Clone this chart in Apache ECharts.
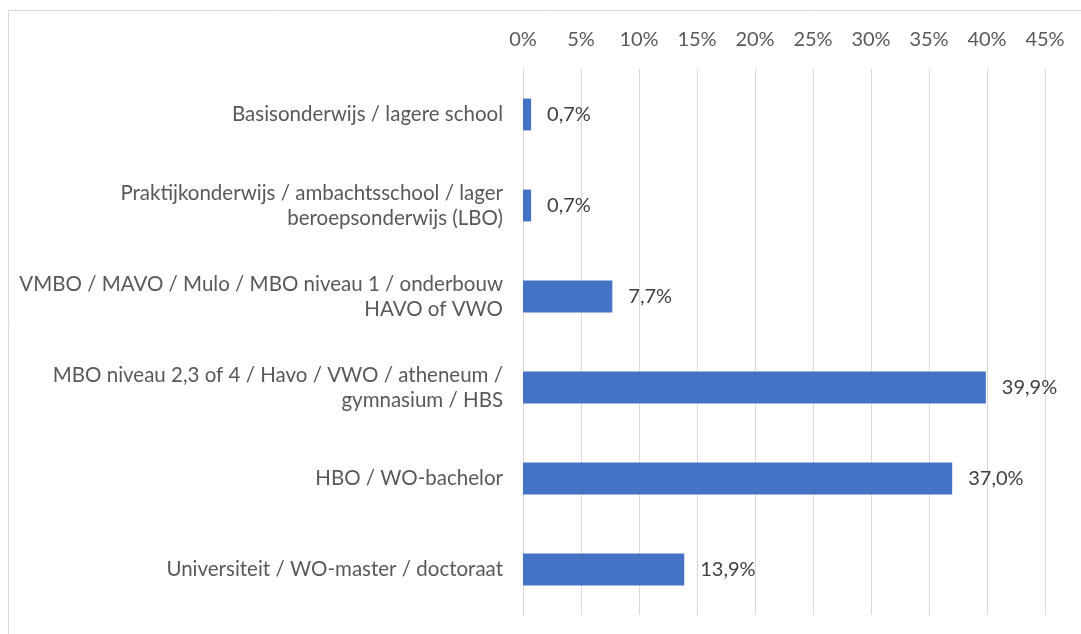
<!DOCTYPE html>
<html><head><meta charset="utf-8">
<script src="https://cdn.jsdelivr.net/npm/echarts@6/dist/echarts.min.js"></script>
<style>html,body{margin:0;padding:0;background:#fff}#c{width:1081px;height:634px}</style>
</head><body><div id="c"></div>
<script>
const categories = [
  "Basisonderwijs / lagere school",
  "Praktijkonderwijs / ambachtsschool / lager\nberoepsonderwijs (LBO)",
  "VMBO / MAVO / Mulo / MBO niveau 1 / onderbouw\nHAVO of VWO",
  "MBO niveau 2,3 of 4 / Havo / VWO / atheneum /\ngymnasium / HBS",
  "HBO / WO-bachelor",
  "Universiteit / WO-master / doctoraat"
];
const values = [0.7, 0.7, 7.7, 39.9, 37.0, 13.9];
const axisMax = 45;
const axisStep = 5;

const chart = echarts.init(document.getElementById('c'), null, {renderer:'canvas'});
const font = 'Lato, sans-serif';
chart.setOption({
  animation:false,
  graphic:[{type:'rect', shape:{x:8.5,y:10.5,width:1200,height:800}, style:{fill:'none', stroke:'#d9d9d9', lineWidth:1}, silent:true}],
  grid:{left:523, right:36, top:69, bottom:19, containLabel:false},
  xAxis:{type:'value', position:'top', min:0, max:axisMax, interval:axisStep,
    axisLine:{show:false}, axisTick:{show:false},
    splitLine:{show:true, lineStyle:{color:'#d9d9d9', width:1}},
    axisLabel:{formatter:v=>v+'%', color:'#595959', fontSize:20, fontFamily:font, margin:19}},
  yAxis:{type:'category', inverse:true, data:categories,
    axisLine:{show:true, lineStyle:{color:'#d9d9d9'}}, axisTick:{show:false},
    axisLabel:{color:'#595959', fontSize:20.5, fontFamily:font, margin:20, align:'right', lineHeight:25}},
  series:[{type:'bar', data:values, barCategoryGap:'65%',
    itemStyle:{color:'#4472c4'},
    label:{show:true, position:'right', distance:16, color:'#404040', fontSize:20, fontFamily:font,
      formatter:p=>p.value.toFixed(1).replace('.',',')+'%'}}]
});
</script></body></html>
